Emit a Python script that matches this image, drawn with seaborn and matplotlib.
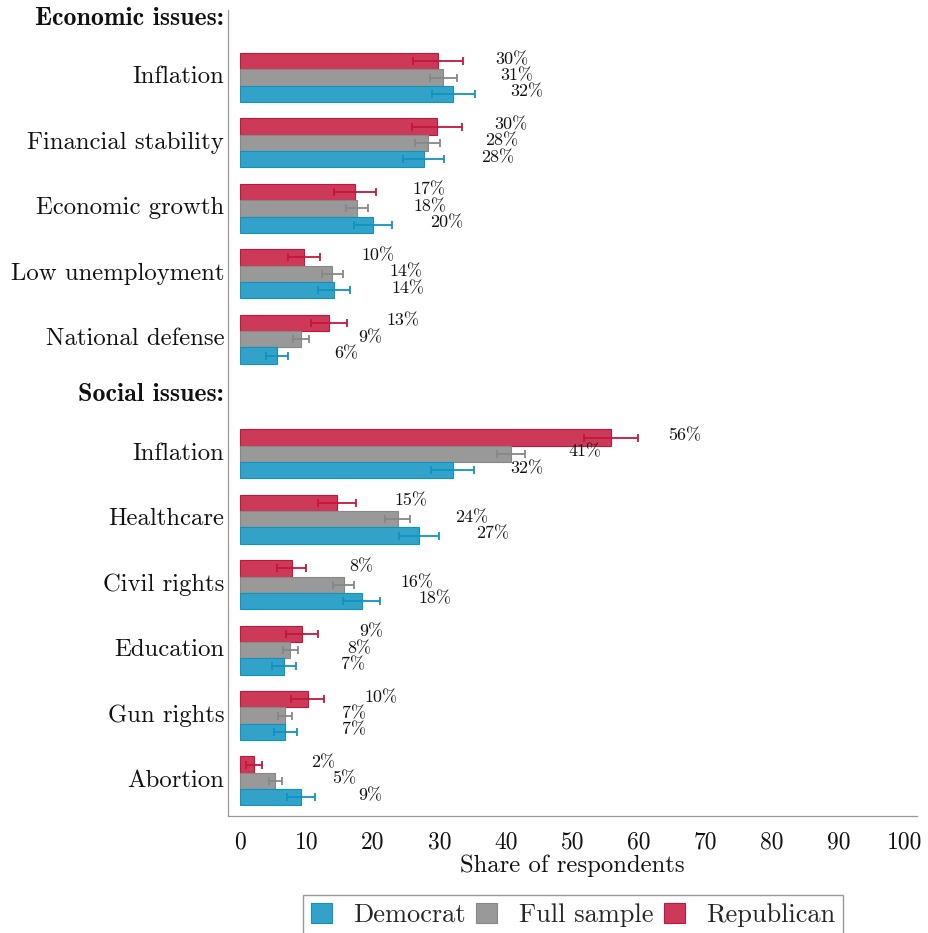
import numpy as np
import pandas as pd
import matplotlib
matplotlib.use("Agg")
import matplotlib.pyplot as plt
import matplotlib.colors as mcolors
from matplotlib.patches import Patch
import seaborn as sns

# ---------------- data ----------------
group_headers = ["Economic issues:", "Social issues:"]
econ_issues = ["Inflation", "Financial stability", "Economic growth",
               "Low unemployment", "National defense"]
social_issues = ["Inflation", "Healthcare", "Civil rights", "Education",
                 "Gun rights", "Abortion"]
parties = ["Democrat", "Full sample", "Republican"]

democrat_econ = [32.1, 27.6, 20.0, 14.2, 5.6]
full_econ = [30.6, 28.2, 17.55, 13.9, 9.2]
republican_econ = [29.75, 29.6, 17.3, 9.6, 13.4]
democrat_social = [32.0, 26.9, 18.3, 6.6, 6.8, 9.2]
full_social = [40.75, 23.7, 15.6, 7.6, 6.8, 5.3]
republican_social = [55.8, 14.6, 7.8, 9.4, 10.2, 2.1]

# half-width of the error bars
democrat_econ_err = [3.25, 3.15, 2.85, 2.4, 1.65]
full_econ_err = [2.0, 1.95, 1.65, 1.55, 1.25]
republican_econ_err = [3.75, 3.75, 3.1, 2.4, 2.75]
democrat_social_err = [3.25, 3.05, 2.75, 1.8, 1.75, 2.05]
full_social_err = [2.1, 1.85, 1.55, 1.15, 1.05, 1.0]
republican_social_err = [4.1, 2.9, 2.2, 2.4, 2.45, 1.2]

x_ticks = [0, 10, 20, 30, 40, 50, 60, 70, 80, 90, 100]
x_label = "Share of respondents"

# ---------------- layout helpers ----------------
GAP = 1.754      # distance between last economic row and first social row
HEAD = 0.9       # header sits this far above its first row
LABEL_LIFT = 0.04
pos_econ = [float(i) for i in range(len(econ_issues))]
pos_social = [pos_econ[-1] + GAP + i for i in range(len(social_issues))]

values = {
    "Democrat": (democrat_econ + democrat_social, democrat_econ_err + democrat_social_err),
    "Full sample": (full_econ + full_social, full_econ_err + full_social_err),
    "Republican": (republican_econ + republican_social, republican_econ_err + republican_social_err),
}
rows = []
for p in parties:
    vals, errs = values[p]
    for pos, v, e in zip(pos_econ + pos_social, vals, errs):
        rows.append({"party": p, "pos": pos, "share": v, "err": e})
df = pd.DataFrame(rows)

base = {"Democrat": "#0f92c0", "Full sample": "#878787", "Republican": "#c4163c"}
def lighten(c, a=0.85):
    r = np.array(mcolors.to_rgb(c))
    return tuple(a * r + (1 - a) * np.ones(3))
face = {k: lighten(v) for k, v in base.items()}

sns.set_theme(style="white")
plt.rcParams["font.family"] = ["cmr10"]
plt.rcParams["axes.formatter.use_mathtext"] = True
plt.rcParams["axes.unicode_minus"] = False
plt.rcParams["mathtext.fontset"] = "cm"

fig = plt.figure(figsize=(9.29, 9.33), dpi=100)
ax = fig.add_axes([228.3 / 929, 1 - 816 / 933, (916.7 - 228.3) / 929, (816 - 10) / 933])

hue_order = ["Republican", "Full sample", "Democrat"]
for party in hue_order:
    sub = df[df.party == party].sort_values("pos")
    n_before = len(ax.patches)
    sns.barplot(data=sub, x="share", y="pos", hue="party", hue_order=hue_order,
                palette=face, orient="y", native_scale=True, width=0.75,
                dodge=True, errorbar=None, saturation=1,
                edgecolor=base[party], linewidth=0.8, legend=False, ax=ax)
    new = sorted([b for b in ax.patches[n_before:] if b.get_width() > 0],
                 key=lambda b: b.get_y())
    ys = [b.get_y() + b.get_height() / 2 for b in new]
    ax.errorbar(sub["share"].values, ys, xerr=sub["err"].values, fmt="none",
                ecolor=base[party], elinewidth=1.3, capsize=2.8, capthick=1.3)
    for v, y in zip(sub["share"].values, ys):
        ax.text(v + 8.6, y - 0.03, f"{v:.0f}%", fontsize=13, va="center",
                ha="left", color="#111111")

ax.set_xlim(-1.75, 101.75)
ax.set_ylim(11.29, -1.032)
ax.set_xticks(x_ticks)
ax.set_xticklabels([str(t) for t in x_ticks], fontsize=17)
ticks = [pos_econ[0] - HEAD] + pos_econ + [pos_social[0] - HEAD] + pos_social
ticks = [t - LABEL_LIFT for t in ticks]
labels = [group_headers[0]] + econ_issues + [group_headers[1]] + social_issues
ax.set_yticks(ticks)
ax.set_yticklabels(labels, fontsize=17.8)
for lab in ax.get_yticklabels():
    if lab.get_text() in group_headers:
        lab.set_fontfamily("cmb10")
        lab.set_fontsize(18.6)
ax.tick_params(axis="both", length=0, colors="#111111")
ax.tick_params(axis="x", pad=11)
ax.tick_params(axis="y", pad=3)
ax.set_ylabel("")
ax.set_xlabel(x_label, fontsize=17.8, labelpad=1, color="#111111")
for s in ["top", "right"]:
    ax.spines[s].set_visible(False)
for s in ["left", "bottom"]:
    ax.spines[s].set_color("#9a9a9a")
    ax.spines[s].set_linewidth(0.9)

handles = [Patch(facecolor=face[p], edgecolor=base[p], linewidth=0.8) for p in parties]
leg = fig.legend(handles, parties, loc="upper center",
                 bbox_to_anchor=(573 / 929, 1 - 895 / 933), ncol=3, fontsize=19,
                 frameon=True, fancybox=False, edgecolor="#999999", framealpha=1,
                 borderaxespad=0, handlelength=0.8, handleheight=0.8,
                 handletextpad=0.8, columnspacing=0.4, borderpad=0.3)
leg.get_frame().set_linewidth(1.0)

fig.savefig("out.png", dpi=100)
